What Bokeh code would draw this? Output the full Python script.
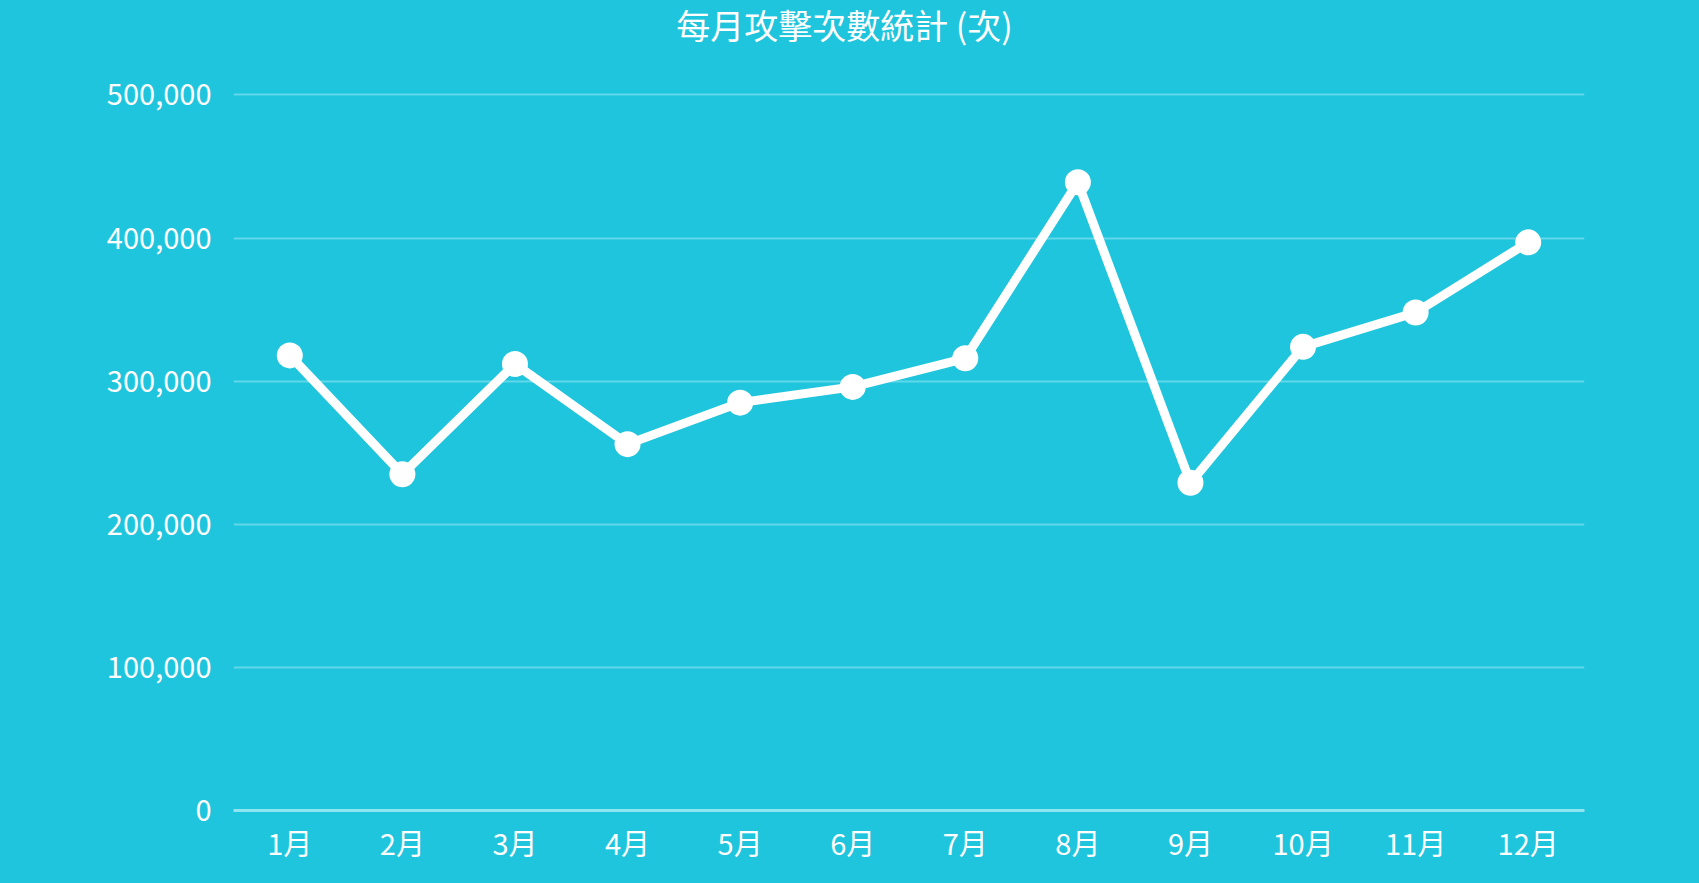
from bokeh.plotting import figure
from bokeh.models import FactorRange, Range1d, FixedTicker, NumeralTickFormatter, Label, ColumnDataSource
from bokeh.embed import file_html
from bokeh.resources import INLINE

months = ["1月", "2月", "3月", "4月", "5月", "6月", "7月", "8月", "9月", "10月", "11月", "12月"]
attacks = [318000, 235000, 312000, 256000, 285000, 296000, 316000, 439000, 229000, 324000, 348000, 397000]
y_ticks = [0, 100000, 200000, 300000, 400000, 500000]
title_text = "每月攻擊次數統計 (次)"

BG = "#1fc5dd"
FONT = "Noto Sans CJK TC"

src = ColumnDataSource(data=dict(month=months, value=attacks))

# frame reaches the top of the canvas so the title (a Label) sits inside it
p = figure(
    width=1699, height=883,
    x_range=FactorRange(factors=months),
    y_range=Range1d(0, 566000),
    output_backend="svg", toolbar_location=None,
    min_border_left=233, min_border_right=115, min_border_top=0, min_border_bottom=73,
)
p.background_fill_color = None
p.border_fill_color = BG
p.outline_line_color = None

p.line("month", "value", source=src, line_color="white", line_width=9, line_join="round")
p.scatter("month", "value", source=src, size=26, fill_color="white", line_color=None)

# grid
p.xgrid.grid_line_color = None
p.ygrid.ticker = FixedTicker(ticks=y_ticks)
p.ygrid.grid_line_color = "#62d7e9"
p.ygrid.grid_line_width = 2

# y axis
p.yaxis.ticker = FixedTicker(ticks=y_ticks)
p.yaxis.formatter = NumeralTickFormatter(format="0,0")
p.yaxis.axis_line_color = None
p.yaxis.major_tick_line_color = None
p.yaxis.minor_tick_line_color = None
p.yaxis.major_label_standoff = 16
p.yaxis.major_label_text_color = "white"
p.yaxis.major_label_text_font = FONT
p.yaxis.major_label_text_font_size = "29px"

# x axis
p.xaxis.axis_line_color = "#8fe6f0"
p.xaxis.axis_line_width = 3
p.xaxis.major_tick_line_color = None
p.xaxis.minor_tick_line_color = None
p.xaxis.major_label_standoff = 4
p.xaxis.major_label_text_color = "white"
p.xaxis.major_label_text_font = FONT
p.xaxis.major_label_text_font_size = "29px"

title = Label(
    x=611, y=786, x_units="screen", y_units="screen",
    text=title_text, text_align="center", text_baseline="middle",
    text_color="white", text_font=FONT, text_font_size="34px",
)
p.add_layout(title)

html = file_html(p, INLINE)
style = "<style>html, body { margin: 0; padding: 0; background-color: %s; overflow: hidden; }</style>" % BG
html = html.replace("<head>", "<head>" + style, 1)
open("out.html", "w").write(html)
